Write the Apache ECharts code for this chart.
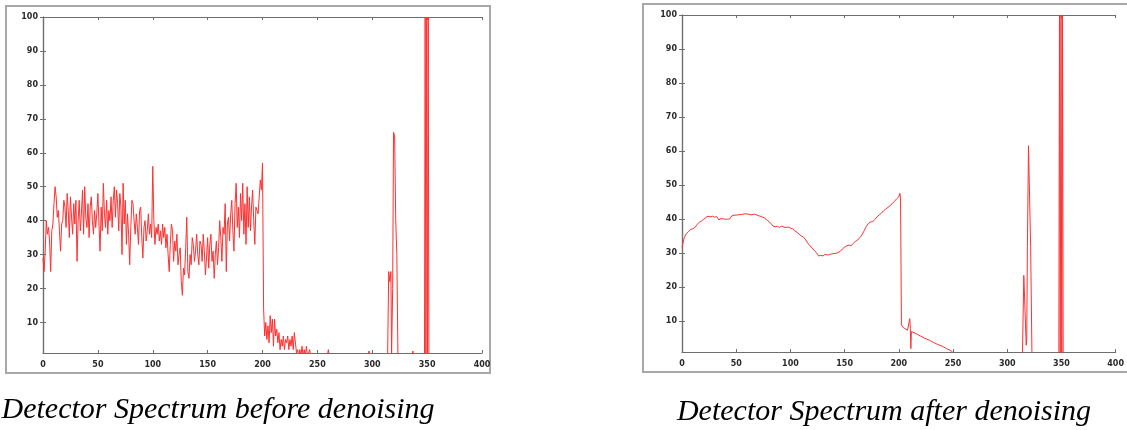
<!DOCTYPE html>
<html><head><meta charset="utf-8">
<script src="https://cdn.jsdelivr.net/npm/echarts@6/dist/echarts.min.js"></script>
<style>html,body{margin:0;padding:0;background:#fff;}#c{width:1127px;height:430px;}</style>
</head><body><div id="c"></div>
<script>
// ---- data ----
const xTicks = [0, 50, 100, 150, 200, 250, 300, 350, 400];
const yTicks = [10, 20, 30, 40, 50, 60, 70, 80, 90, 100];
const captions = ['Detector Spectrum before denoising', 'Detector Spectrum after denoising'];

// raw spectrum, one value per channel 0..250
const beforeY = [
  29,25,31,40,36,38,34,25,37,39,
  45,50,47,41,43,37,31,39,40,46,
  44,38,48,43,35,47,41,36,45,39,
  46,28,40,46,37,42,49,36,50,41,
  38,45,35,44,47,40,36,43,38,42,
  48,39,31,44,37,51,42,38,46,36,
  43,40,47,38,46,50,41,49,45,37,
  48,44,30,51,39,46,33,42,36,27,
  38,46,45,40,36,42,38,33,43,44,
  35,29,38,40,34,37,42,36,39,35,
  56,40,33,38,36,39,34,37,33,39,
  35,38,32,36,30,25,33,39,37,28,
  34,31,36,27,30,32,22,18,26,24,
  32,41,25,23,30,27,35,33,28,31,
  36,30,27,34,33,28,36,31,24,29,
  35,26,33,36,28,31,23,30,34,27,
  32,40,35,28,38,36,45,25,39,41,
  34,42,46,37,31,45,51,38,44,35,
  48,40,51,36,45,33,50,38,47,37,
  44,49,40,33,44,43,42,47,52,49,
  57,14,6,10,5,9,4,12,7,11,
  3,11,6,8,4,7,2,5,3,6,
  2,5,4,6,2,5,3,6,2,7,
  4,1,2,0,2,0,3,0,2,0,
  3,0,1,2,0,0,1,0,0,0,
  0
];
// raw spectrum, isolated lines above channel 250
const beforePeakX = [259, 260, 261, 296, 297, 298, 314, 315, 316, 317, 317.6, 318.6, 319.4, 320.4, 321.4, 322.4, 323.4, 336, 337, 338, 347.6, 348.2, 348.9, 349.6, 350.3, 351, 351.6, 380, 400];
const beforePeakY = [0, 2, 0, 0, 1.6, 0, 0, 25, 22, 25, 0, 20, 66, 65, 40, 30, 0, 0, 1.6, 0, 0, 100, 0, 100, 0, 100, 0, 0, 0];

// denoised spectrum
const afterX = [0,2,4,6,8,10,12,14,16,18,20,22,24,26,28,30,32,34,36,38,40,42,44,46,48,50,52,55,58,61,64,67,70,73,76,79,82,84,86,88,90,92,94,96,98,100,102,104,106,108,110,112,114,116,118,120,122,124,126,128,130,132,134,136,138,140,142,144,146,148,150,152,154,156,158,160,162,164,166,168,170,172,174,176,178,180,182,184,186,188,190,192,194,196,198,200,201,201.6,202.4,204,206,208,209.6,210.1,210.6,211.1,211.6,213,216,220,224,228,232,236,240,244,248,250,252,314,315.3,317,317.5,318,318.6,319.6,321,321.6,322.2,322.8,347.6,348.2,348.9,349.6,350.3,351,351.6,380,400];
const afterY = [31.8,34.5,35.8,36.4,37.0,37.2,37.6,38.5,39.1,39.5,40.0,40.5,40.9,40.7,40.9,40.6,40.8,39.8,40.2,40.1,40.0,40.0,40.1,41.0,41.2,41.2,41.3,41.4,41.6,41.5,41.3,41.5,41.1,40.8,40.4,39.6,38.8,38.0,37.8,37.9,37.6,38.0,37.7,37.6,37.7,37.4,37.2,36.6,36.2,35.6,35.1,34.8,34.0,33.0,32.2,31.6,30.8,30.2,29.2,29.4,29.2,29.7,29.5,29.6,29.8,29.9,30.0,30.2,30.6,31.3,31.8,32.2,32.4,32.2,32.9,33.5,33.9,34.6,35.4,36.6,37.9,38.8,39.2,39.3,40.0,40.7,41.3,41.8,42.5,43.0,43.5,44.0,44.6,45.3,46.0,46.6,47.6,46.0,9.0,8.2,7.8,7.4,7.0,10.8,8.0,2.0,7.0,6.9,6.4,5.7,5.0,4.5,3.8,3.2,2.7,2.0,1.4,0.8,0,0,23.5,23.5,3,5,32,61.6,61.6,32,32,0,0,100,0,100,0,100,0,0,0];

// ---- build ----
const beforeData = beforeY.map((v, i) => [i, v]).concat(beforePeakX.map((x, i) => [x, beforePeakY[i]]));
const afterData = afterX.map((x, i) => [x, afterY[i]]);

const chart = echarts.init(document.getElementById('c'), null, {renderer: 'canvas'});
const axisColor = '#6e6e6e';
const labelStyle = {fontFamily: 'DejaVu Sans', fontWeight: 'bold', fontSize: 8, color: '#2a2a2a'};

function xAxes(gi) {
  return [
    {gridIndex: gi, type: 'value', position: 'bottom', min: 0, max: 400, interval: 50,
     axisLine: {lineStyle: {color: axisColor, width: 1.2}},
     axisTick: {inside: true, length: 3, lineStyle: {color: axisColor}},
     axisLabel: Object.assign({margin: 8}, labelStyle),
     splitLine: {show: false}},
    {gridIndex: gi, type: 'value', position: 'top', min: 0, max: 400, interval: 50,
     axisLine: {lineStyle: {color: axisColor, width: 1.2}},
     axisTick: {inside: true, length: 3, lineStyle: {color: axisColor}},
     axisLabel: {show: false}, splitLine: {show: false}}
  ];
}
function yAxes(gi) {
  return [
    {gridIndex: gi, type: 'value', position: 'left', min: 1, max: 100,
     axisLine: {lineStyle: {color: axisColor, width: 1.2}},
     axisTick: {inside: true, length: 3, lineStyle: {color: axisColor}, customValues: yTicks},
     axisLabel: Object.assign({margin: 5, customValues: yTicks}, labelStyle),
     splitLine: {show: false}},
    {gridIndex: gi, type: 'value', position: 'right', min: 1, max: 100,
     axisLine: {lineStyle: {color: axisColor, width: 1.2}},
     axisTick: {inside: true, length: 3, lineStyle: {color: axisColor}, customValues: yTicks},
     axisLabel: {show: false}, splitLine: {show: false}}
  ];
}

const lineStyle = {color: '#ff3030', width: 1};
chart.setOption({
  animation: false,
  backgroundColor: '#ffffff',
  grid: [
    {left: 43, top: 17, width: 439, height: 336},
    {left: 682, top: 15, width: 438, height: 337}
  ],
  xAxis: xAxes(0).concat(xAxes(1)),
  yAxis: yAxes(0).concat(yAxes(1)),
  series: [
    {type: 'line', xAxisIndex: 0, yAxisIndex: 0, data: beforeData, showSymbol: false, lineStyle: lineStyle, clip: true},
    {type: 'line', xAxisIndex: 2, yAxisIndex: 2, data: afterData, showSymbol: false, lineStyle: lineStyle, clip: true}
  ],
  graphic: [
    {type: 'rect', shape: {x: 6, y: 6, width: 484, height: 367}, style: {fill: 'none', stroke: '#a8a8a8', lineWidth: 2}, z: -1},
    {type: 'rect', shape: {x: 643, y: 4, width: 492, height: 368}, style: {fill: 'none', stroke: '#a8a8a8', lineWidth: 2}, z: -1},
    {type: 'text', x: 218, y: 410, style: {text: captions[0], font: 'italic 30px "Liberation Serif"', fill: '#000', textAlign: 'center', textVerticalAlign: 'middle'}},
    {type: 'text', x: 884, y: 412, style: {text: captions[1], font: 'italic 30px "Liberation Serif"', fill: '#000', textAlign: 'center', textVerticalAlign: 'middle'}}
  ]
});
</script>
</body></html>
